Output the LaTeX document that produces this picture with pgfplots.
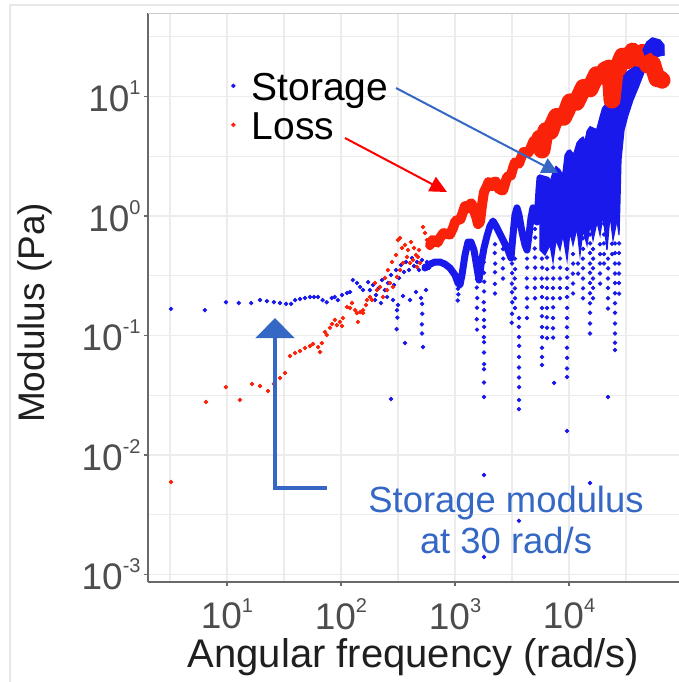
\documentclass[border=0pt]{standalone}
\usepackage{fontspec}
\setmainfont{Liberation Sans}
\usepackage{pgfplots}
\pgfplotsset{compat=1.18}
\usetikzlibrary{arrows.meta}
\definecolor{gs}{RGB}{25,25,235}
\definecolor{gl}{RGB}{250,35,10}
\definecolor{annb}{RGB}{52,104,196}
\definecolor{tickc}{RGB}{77,77,77}
\definecolor{axc}{RGB}{105,105,105}
\definecolor{topc}{RGB}{205,205,205}
\definecolor{gridc}{RGB}{236,236,236}
\definecolor{framec}{RGB}{232,232,232}
\newcommand\ex[1]{\raisebox{0.45em}{\fontsize{10}{10}\selectfont #1}}
\begin{document}
\begin{tikzpicture}[x=1pt,y=1pt]
\path[use as bounding box] (-74,-50) rectangle (265.5,291);
\draw[framec, line width=0.7pt] (-69,-50) -- (-69,288.5) -- (265.5,288.5);
\begin{axis}[
  at={(0,0)}, anchor=south west,
  scale only axis, width=265.5pt, height=284.5pt,
  xmode=log, ymode=log,
  xmin=2.03, xmax=92200, ymin=8.65e-4, ymax=50,
  axis lines*=left,
  axis line style={draw=axc, line width=1pt},
  xtick={10,100,1000,10000},
  xticklabels={10\ex{1},10\ex{2},10\ex{3},10\ex{4}},
  ytick={0.001,0.01,0.1,1,10},
  yticklabels={10\ex{-3},10\ex{-2},10\ex{-1},10\ex{0},10\ex{1}},
  minor xtick={3.1623,31.623,316.23,3162.3,31623},
  minor ytick={0.0031623,0.031623,0.31623,3.1623,31.623},
  grid=both,
  major grid style={draw=gridc, line width=0.9pt},
  minor grid style={draw=gridc, line width=0.6pt},
  tick align=outside, major tick length=2pt, minor tick length=0pt,
  tick style={draw=axc, line width=0.7pt},
  ticklabel style={font=\fontsize{18.5}{18.5}\selectfont, text=tickc, inner sep=0pt},
  xticklabel style={anchor=north, yshift=-6pt},
  yticklabel style={anchor=east, xshift=-1.5pt},
  xlabel={Angular frequency (rad/s)},
  ylabel={Modulus (Pa)},
  every axis x label/.style={at={(axis description cs:0.5,-0.151)}, anchor=base, font=\fontsize{20}{20}\selectfont, text=black!88},
  every axis y label/.style={at={(axis description cs:-0.194,0.473)}, anchor=base, rotate=90, font=\fontsize{18.5}{18.5}\selectfont, text=black!88},
  legend style={at={(axis description cs:0.1563,0.897)}, anchor=north west, draw=none, fill=none, inner sep=0pt, outer sep=0pt, row sep=0pt, font=\fontsize{19.5}{19.5}\selectfont, cells={anchor=base west}, nodes={inner sep=0pt, text height=14.6pt, text depth=4.9pt}},
  legend image code/.code={\path (0pt,0pt) (10pt,0pt); \draw[#1] plot coordinates {(1pt,7.5pt)};},
  every axis plot/.append style={mark size=0.9pt},
]
% Storage: sparse points
\addplot[only marks, mark=*, mark options={draw=none, fill=gs}, color=gs] coordinates {
(3.23,0.167) (6.4,0.163) (9.8,0.19) (12.7,0.187) (16.3,0.187) (19.5,0.198) (22.4,0.194) (25.8,0.19) (29.2,0.187) (33,0.184) (36.5,0.184) (39.6,0.198) (43.7,0.202) (48.3,0.206) (53.4,0.21) (58,0.21) (63,0.21) (69,0.198) (75,0.19) (83,0.206) (88,0.21) (94,0.198) (102,0.218) (113,0.227) (120,0.231) (127,0.291) (138,0.275) (147,0.255) (156,0.24) (173,0.28)
(179.5,0.240) (191,0.265) (203,0.218) (215,0.250) (229,0.291) (243,0.240) (258,0.275) (275,0.321) (292,0.265) (304,0.353) (323,0.303) (336,0.389) (357,0.340) (372,0.412) (395,0.353) (420,0.445) (437,0.382) (464,0.412) (483,0.353) (514,0.428) (535,0.382) (568,0.412) (591,0.367)
(199,0.198) (224,0.187) (254,0.210) (286,0.198) (316,0.180) (350,0.214) (403,0.198) (455,0.231) (503,0.206) (557,0.240)
(310,0.163) (312,0.141) (308,0.113) (275,0.0294) (364,0.0865) (514,0.184) (516,0.152) (513,0.124) (514,0.104) (524,0.080)
(1062,0.246) (1070,0.221) (1058,0.196)
(1560,0.295) (1555,0.252) (1565,0.206) (1560,0.171) (1552,0.137) (1560,0.112)
(1797,0.478) (1790,0.41) (1800,0.335) (1805,0.282) (1797,0.234) (1790,0.19) (1800,0.163) (1797,0.135) (1803,0.118) (1790,0.097) (1797,0.088) (1797,0.072) (1801,0.0575) (1794,0.0522) (1797,0.0405) (1797,0.0306) (1797,0.0068) (1797,0.0014)
(2243,0.58) (2230,0.49) (2250,0.40) (2243,0.338) (2238,0.27) (2243,0.225)
(2636,0.53) (2650,0.44) (2630,0.365) (2636,0.30)
(3162,0.40) (3170,0.333) (3155,0.272) (3162,0.23) (3175,0.19) (3162,0.152) (3150,0.128)
(3359,0.44) (3370,0.36) (3350,0.30) (3359,0.248) (3365,0.205) (3359,0.17)
(3643,0.14) (3630,0.118) (3643,0.097) (3655,0.082) (3643,0.066) (3640,0.054) (3643,0.0445) (3650,0.037) (3643,0.0289) (3640,0.0242) (3643,0.00281)
(4282,0.44) (4300,0.37) (4270,0.30) (4282,0.252) (4290,0.204) (4282,0.172) (4275,0.14)
(5030,0.78) (5050,0.66) (5010,0.535) (5030,0.45) (5045,0.37) (5030,0.30) (5020,0.25) (5030,0.205)
(5795,0.44) (5810,0.37) (5780,0.30) (5795,0.255) (5800,0.21) (5795,0.17) (5785,0.145) (5795,0.118) (5805,0.097) (5795,0.079) (5795,0.066) (5795,0.0567)
(6413,0.45) (6430,0.36) (6400,0.30) (6413,0.25) (6425,0.205) (6413,0.17) (6400,0.142) (6413,0.116) (6420,0.095)
(7244,0.37) (7260,0.30) (7230,0.25) (7244,0.205) (7250,0.172) (7244,0.14) (7235,0.115) (7244,0.096) (7400,0.0401)
(8340,0.44) (8360,0.37) (8320,0.30) (8340,0.25) (8340,0.205)
(9612,0.36) (9630,0.305) (9600,0.25) (9612,0.21) (9625,0.17) (9612,0.14) (9600,0.117) (9612,0.097) (9620,0.079) (9612,0.065) (9605,0.053) (9612,0.0449) (9612,0.0159)
(10840,0.48) (10870,0.40) (10820,0.33) (10840,0.272) (10850,0.225)
(11990,0.40) (12020,0.33)
(13270,0.65) (13300,0.53) (13240,0.44) (13270,0.365) (13290,0.30) (13270,0.248) (13250,0.205)
(15280,0.70) (15300,0.59) (15260,0.49) (15280,0.40) (15300,0.335) (15280,0.275) (15270,0.226) (15280,0.186) (15290,0.155) (15280,0.126) (15280,0.104) (15280,0.00583)
(16250,0.53) (16280,0.44) (16230,0.365) (16250,0.30) (16260,0.25) (16250,0.205)
(18720,0.58) (18760,0.48) (18700,0.40) (18720,0.33) (18730,0.272)
(20280,0.86) (20300,0.70) (20260,0.59) (20280,0.48) (20290,0.40)
(21980,0.44) (22010,0.365) (21960,0.30) (21980,0.25) (21990,0.205) (21980,0.168) (21980,0.0306)
(23840,0.585) (23870,0.48)
(25330,0.59) (25360,0.49) (25310,0.40) (25330,0.33) (25350,0.275) (25330,0.226) (25320,0.186) (25330,0.155) (25340,0.126) (25330,0.104) (25330,0.087) (25330,0.0757)
(27470,0.59) (27500,0.49) (27450,0.40) (27470,0.33) (27480,0.275) (27470,0.224)
};
\addlegendentry{Storage}
% Loss: sparse points
\addplot[only marks, mark=*, mark options={draw=none, fill=gl}, color=gl] coordinates {
(3.23,0.00594) (6.55,0.0278) (9.8,0.037) (13.0,0.0289) (16.6,0.0393) (19.5,0.0378) (22.9,0.0343) (25.8,0.0393) (29.2,0.0441) (32.3,0.0486) (35.7,0.0673) (39.6,0.0714) (43.7,0.0742) (48.3,0.0786) (53.4,0.0817) (56.8,0.0849) (63,0.080) (68,0.0865) (65.5,0.0728) (72.5,0.107) (75,0.101) (80,0.116) (83.4,0.125) (88.5,0.135) (92,0.122) (98,0.130) (102,0.12) (104,0.14) (113,0.173) (120,0.17) (125,0.187) (133,0.163) (138,0.154) (141,0.130) (147,0.157) (156,0.154) (169,0.198)
(156,0.163) (179.5,0.210) (207,0.240) (220,0.255) (234,0.210) (254,0.240) (269,0.275) (286,0.255) (310,0.309) (330,0.353) (350,0.404) (379,0.454) (403,0.404) (428,0.428) (464,0.374) (473,0.454) (493,0.404) (316,0.630) (330,0.655) (524,0.809) (546,0.721) (568,0.630) (580,0.572) (604,0.540)
(343,0.540) (364,0.572) (387,0.519) (411,0.606) (437,0.540) (455,0.472) (483,0.519) (304,0.472) (280,0.412) (258,0.353) (243,0.303) (199,0.275) (187,0.198) (166,0.180)
};
\addlegendentry{Loss}
% Storage: dense high-frequency core
\addplot[fill=gs, draw=gs, line width=0.6pt, forget plot] coordinates {
(5565,2.20) (6413,2.12) (6800,1.9) (7244,2.33) (7700,2.6) (8340,2.43) (8800,2.2) (9236,3.24) (9700,3.5) (10205,3.57) (11000,3.3) (11750,4.08) (12500,4.4) (13270,4.58) (13800,4.2) (14390,5.14) (15300,5.6) (16250,5.45) (17500,5.3) (18720,6.74) (19700,8.0) (20700,8.49) (21800,8.0) (22900,9.35) (23840,8.01) (24830,8.65) (26370,11.8) (29170,14.3) (30990,15.7) (34300,16.7) (37930,18.0) (41970,20.2) (44570,24.5) (48300,28.6) (53460,30.9) (62850,28.6) (66800,27.0) (68080,22.3)
(56800,21.4) (49320,19.4) (44570,15.1) (40290,11.8) (36420,9.35) (32950,7.0) (30370,5.24) (28580,2.94) (28010,1.36) (27470,0.693)
(26370,0.926) (24330,0.630) (22900,1.02) (21540,0.519) (19880,1.02) (18720,0.693) (17620,0.891) (16250,0.630) (15280,0.841) (14390,0.572) (13270,0.764) (12480,0.472) (11750,0.794) (10840,0.572) (10205,0.735) (9612,0.428) (8856,0.693) (8340,0.519) (7700,0.630) (7244,0.412) (6815,0.572) (6158,0.472) (5565,0.519)
} -- cycle;
% Storage: mid-frequency band
\addplot[gs, line width=3.5pt, line join=round, line cap=round, no marks, forget plot] coordinates {
(546,0.367) (604,0.396) (668,0.412) (738,0.412) (817,0.396) (904,0.367) (1000,0.321) (1062,0.275) (1106,0.265) (1152,0.321) (1224,0.472) (1300,0.606) (1381,0.606) (1468,0.519) (1560,0.367) (1624,0.291) (1690,0.389) (1797,0.540) (1909,0.680) (2028,0.825) (2154,0.908) (2289,0.825) (2482,0.707) (2690,0.606) (2917,0.519) (3098,0.445) (3227,0.693) (3359,1.02) (3497,1.17) (3643,1.02) (3870,0.735) (4111,0.572) (4282,0.519) (4458,0.693) (4641,0.962) (4831,1.17) (5030,1.02) (5238,0.891) (5453,1.65) (5565,2.08) (5679,1.65) (5914,1.36) (6158,1.82) (6413,2.00)
};
% Loss: band
\addplot[gl, line width=5pt, line join=round, line cap=round, no marks, forget plot] coordinates {
(604,0.572) (635,0.63) (668,0.618) (702,0.598) (738,0.655) (792,0.72) (851,0.707) (904,0.70) (961,0.794) (1010,0.91) (1062,0.926) (1117,0.94) (1175,1.08) (1223,1.21) (1274,1.21) (1313,1.16) (1354,1.26) (1395,1.28) (1438,1.17) (1528,1.00) (1592,0.857) (1656,0.891) (1726,1.24) (1797,1.59) (1909,1.78) (1968,1.92) (2028,1.85) (2111,1.78) (2198,1.93) (2289,1.94) (2384,1.71) (2533,1.65) (2637,1.64) (2745,1.85) (2859,2.12) (2977,2.16) (3099,2.19) (3227,2.52) (3359,2.81) (3497,2.78) (3642,2.74) (3792,3.06) (3989,3.43) (4196,3.43) (4413,3.38) (4641,3.78) (4881,4.24) (5133,4.24) (5345,4.10) (5565,4.49)
};
\addplot[gl, line width=8.5pt, line join=round, line cap=round, no marks, forget plot] coordinates {
(5565,4.49) (5795,3.57) (6035,4.49) (6285,5.19) (6544,5.14) (6885,5.12) (7244,5.89) (7773,6.80) (8340,6.74) (8953,6.71) (9612,7.71) (10207,9.0) (10840,9.0) (11631,8.95) (12480,10.3) (13401,11.9) (14390,11.8) (15292,11.6) (16250,13.2) (17441,15.2) (18720,15.1) (19685,14.8) (20700,16.7) (22440,17.3) (23360,12.5) (23840,9.35) (24830,13.7) (25589,16.8) (26370,17.7) (27178,17.2) (28010,19.4) (29463,21.8) (30990,21.0) (32603,19.9) (34300,21.8) (36070,24.0) (37930,22.7) (39899,20.9) (41970,22.3) (44148,23.4) (46440,21.0) (48857,18.4) (51400,18.7) (54032,18.7) (56800,16.0) (59118,14.1) (61530,14.3) (65460,13.7)
};
% Storage: top-right cap
\addplot[fill=gs, draw=gs, line width=0.6pt, forget plot] coordinates {
(44570,24.5) (48300,28.6) (54590,30.9) (62850,29.7) (68080,27.0) (68080,22.3) (59150,22.3) (51400,23.6) (46440,22.3)
} -- cycle;
\draw[topc, line width=1pt] (rel axis cs:0,1) -- (rel axis cs:1,1);
\end{axis}
\draw[annb, line width=1pt, -{Triangle[length=8pt,width=8pt]}] (124,247) -- (205,204.5);
\draw[red, line width=1pt, -{Triangle[length=8.5pt,width=8pt]}] (98.5,222) -- (149.5,195);
\draw[annb, line width=2.2pt, line join=miter, -{Triangle[length=10pt,width=19pt]}] (89.5,47) -- (63.5,47) -- (63.5,132);
\node[text=annb, font=\fontsize{18.2}{18.2}\selectfont, anchor=base, inner sep=0pt] at (179,35) {Storage modulus};
\node[text=annb, font=\fontsize{18.2}{18.2}\selectfont, anchor=base, inner sep=0pt] at (179,14.5) {at 30 rad/s};
\end{tikzpicture}
\end{document}
